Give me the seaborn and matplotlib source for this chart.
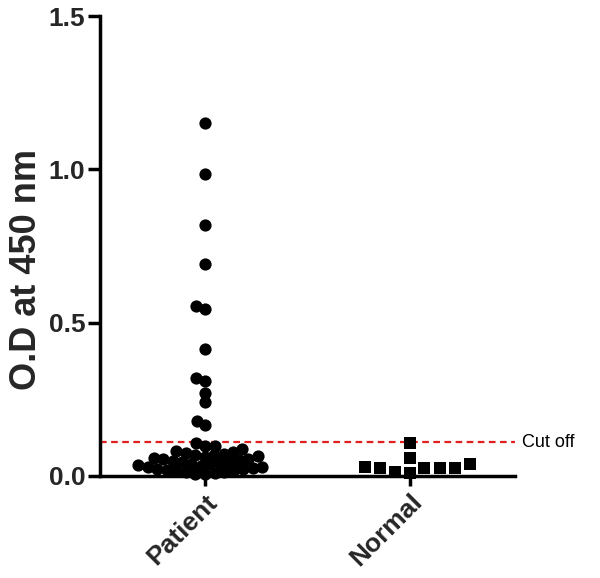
import matplotlib
matplotlib.use("Agg")
import matplotlib.pyplot as plt
import matplotlib.transforms as mtransforms
import seaborn as sns
import pandas as pd

categories = ["Patient", "Normal"]
patient_values = [1.15, 0.985, 0.82, 0.69, 0.555, 0.545, 0.415, 0.32, 0.31, 0.27,
                  0.24, 0.18, 0.165,
                  0.107, 0.098, 0.098, 0.088,
                  0.08, 0.077, 0.075, 0.072, 0.07, 0.068, 0.065, 0.062, 0.06,
                  0.057, 0.055, 0.052, 0.05, 0.047, 0.045, 0.042, 0.04, 0.038,
                  0.035, 0.033, 0.03, 0.028, 0.026, 0.024, 0.022, 0.02, 0.018,
                  0.016, 0.014, 0.012, 0.01, 0.008, 0.006]
normal_values = [0.108, 0.06, 0.04, 0.03, 0.027, 0.027, 0.026, 0.027, 0.013, 0.01]
cutoff = 0.11
y_ticks = [0.0, 0.5, 1.0, 1.5]

sns.set_style("white")
plt.rcParams["font.family"] = ["Liberation Sans", "DejaVu Sans"]

fig = plt.figure(figsize=(6.0, 5.78), dpi=100)
ax = fig.add_axes([0.1667, 0.1765, 0.6916, 0.7955])

df_p = pd.DataFrame({"group": "Patient", "value": patient_values})
df_n = pd.DataFrame({"group": "Normal", "value": normal_values})

# lay out the swarms with a collision size, then draw markers at final size
groups = []
n0 = len(ax.collections)
sns.swarmplot(data=df_p, x="group", y="value", order=categories, color="black",
              marker="o", size=6.6, linewidth=0, ax=ax, warn_thresh=1)
groups.append([c for c in ax.collections[n0:] if len(c.get_offsets()) > 0])
n1 = len(ax.collections)
sns.swarmplot(data=df_n, x="group", y="value", order=categories, color="black",
              marker="s", size=10.5, linewidth=0, ax=ax, warn_thresh=1)
groups.append([c for c in ax.collections[n1:] if len(c.get_offsets()) > 0])

ax.set_xlim(-0.512, 1.512)
ax.set_ylim(0, 1.5)
fig.canvas.draw()

final_sizes = [8.8, 8.0]
for colls, s in zip(groups, final_sizes):
    for coll in colls:
        offs = coll.get_offsets().copy()
        if "draw" in coll.__dict__:
            del coll.__dict__["draw"]
        coll.set_offsets(offs)
        coll.set_sizes([s ** 2])
        coll.set_clip_on(False)

ax.axhline(cutoff, color="#e02020", ls=(0, (3, 2)), lw=1.6, zorder=0)
trans = mtransforms.blended_transform_factory(ax.transAxes, ax.transData)
ax.text(1.017, cutoff, "Cut off", transform=trans, va="center", ha="left",
        fontsize=13, color="black")

ax.set_yticks(y_ticks)
ax.set_yticklabels([f"{v:.1f}" for v in y_ticks], fontsize=19, fontweight="bold")
ax.set_xticks([0, 1])
ax.set_xticklabels(categories, fontsize=19, fontweight="bold", rotation=45,
                   ha="right", rotation_mode="anchor")
ax.set_xlabel("")
ax.set_ylabel("O.D at 450 nm", fontsize=26, fontweight="bold")
ax.yaxis.set_label_coords(-0.135, 0.448)

for s in ["top", "right"]:
    ax.spines[s].set_visible(False)
for s in ["left", "bottom"]:
    ax.spines[s].set_linewidth(2.5)
    ax.spines[s].set_color("black")
ax.tick_params(axis="y", which="major", direction="out", length=9, width=2.5,
               color="black", left=True, pad=1.5)
ax.tick_params(axis="x", which="major", direction="out", length=7, width=2.5,
               color="black", bottom=True, pad=3)
ax.grid(False)

fig.savefig("out.png", dpi=100)
